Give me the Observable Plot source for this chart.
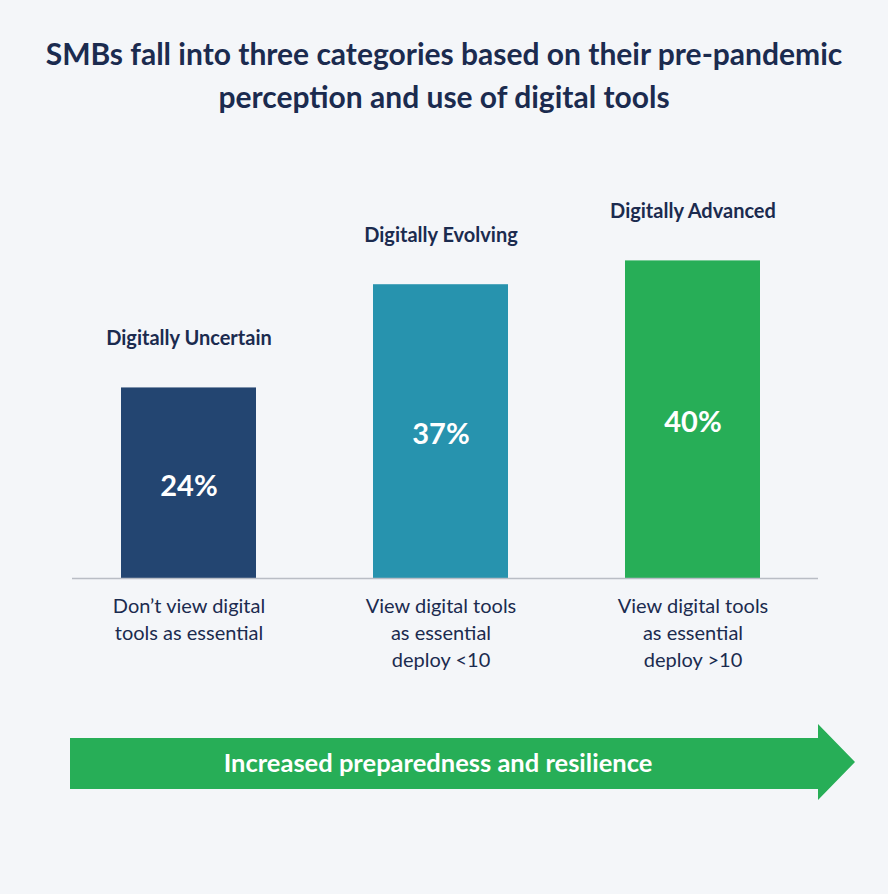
<!DOCTYPE html>
<html>
<head>
<meta charset="utf-8">
<script src="https://cdn.jsdelivr.net/npm/d3@7"></script>
<script src="https://cdn.jsdelivr.net/npm/@observablehq/plot@0.6"></script>
<style>
  html, body { margin: 0; padding: 0; background: #f4f6f9; }
  #wrap { position: relative; width: 888px; height: 894px; background: #f4f6f9; font-family: Lato, "Noto Sans", sans-serif; }
  #title { position: absolute; left: 0; top: 32px; width: 888px; text-align: center; font-size: 30px; line-height: 43px; font-weight: 700; color: #1b2b4f; }
  #chart { position: absolute; left: 0; top: 140px; }
  #arrow { position: absolute; left: 70px; top: 724px; width: 785px; height: 76px; background: #27ae57;
    clip-path: polygon(0 14px, 748px 14px, 748px 0, 785px 38px, 748px 76px, 748px 65px, 0 65px); }
  #arrow span { position: absolute; left: 0; top: 13px; width: 736px; height: 51px; line-height: 51px; text-align: center; color: #fff; font-size: 25.5px; font-weight: 700; }
</style>
</head>
<body>
<div id="wrap">
  <div id="title">SMBs fall into three categories based on their pre-pandemic<br>perception and use of digital tools</div>
  <div id="chart"></div>
  <div id="arrow"><span id="arrowText"></span></div>
</div>
<script>
const categories = ["Digitally Uncertain", "Digitally Evolving", "Digitally Advanced"];
const values = [24, 37, 40];
const descriptions = [
  "Don’t view digital\ntools as essential",
  "View digital tools\nas essential\ndeploy <10",
  "View digital tools\nas essential\ndeploy >10"
];
const barColors = ["#234571", "#2793ae", "#27ae57"];
const arrowLabel = "Increased preparedness and resilience";

const data = categories.map((c, i) => ({category: c, value: values[i], desc: descriptions[i], color: barColors[i]}));

const chart = Plot.plot({
  width: 888,
  height: 560,
  marginTop: 41,
  marginBottom: 122,
  marginLeft: 72,
  marginRight: 70,
  style: {background: "transparent", fontFamily: "Lato, 'Noto Sans', sans-serif"},
  x: {domain: categories, paddingInner: 0.465, paddingOuter: 0.21, align: 0.453, axis: null},
  y: {domain: [0, 50], axis: null},
  marks: [
    Plot.barY(data, {x: "category", y: "value", fill: "color"}),
    Plot.ruleY([0], {stroke: "#b9bdc5", strokeWidth: 1.5}),
    Plot.text(data, {x: "category", y: d => d.value / 2, text: d => d.value + "%", dy: 3, fill: "white", fontSize: 29, fontWeight: 700}),
    Plot.text(data, {x: "category", y: "value", text: "category", lineAnchor: "bottom", dy: -43, fill: "#1b2b4f", fontSize: 20, fontWeight: 700}),
    Plot.text(data, {x: "category", text: "desc", frameAnchor: "bottom", lineAnchor: "top", dy: 15, lineHeight: 1.35, fill: "#1b2b4f", fontSize: 20})
  ]
});
document.getElementById("chart").appendChild(chart);
document.getElementById("arrowText").textContent = arrowLabel;
</script>
</body>
</html>
